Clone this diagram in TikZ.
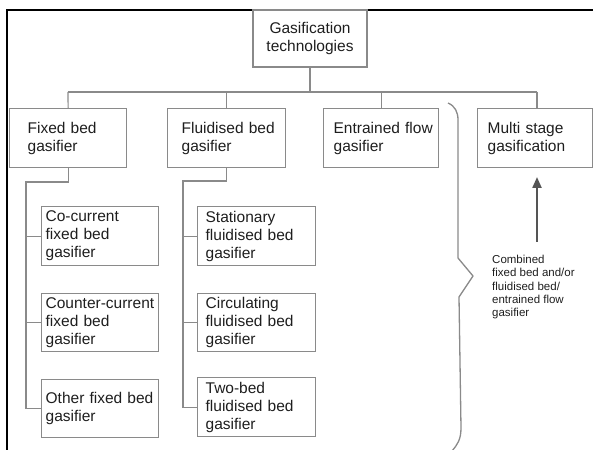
\documentclass[tikz,border=0pt]{standalone}
\usepackage{fontspec}
\setmainfont{Liberation Sans}
\usetikzlibrary{arrows.meta,calc}
\definecolor{lc}{HTML}{8A8A8A}
\definecolor{tc}{HTML}{1E1E1E}
\definecolor{ac}{HTML}{555555}
\begin{document}
\begin{tikzpicture}[x=1bp,y=-1bp,
  box/.style={draw=lc, line width=1.3bp, text=tc, anchor=north west,
    inner xsep=4bp, inner ysep=0pt, align=left,
    font=\fontsize{15.5bp}{18bp}\selectfont},
  lpad/.style={execute at begin node={\leftskip=#1}},
  conn/.style={draw=lc, line width=1.2bp},
  small/.style={anchor=north west, inner sep=0pt, align=left, text=tc,
    font=\fontsize{11.5bp}{13.3bp}\selectfont}]
\useasboundingbox (0,0) rectangle (593,450);
% frame
\draw[line width=2.2bp] (7,451) -- (7,10) -- (594,10);
% top
\node[box, anchor=center, align=center, minimum width=114bp, minimum height=57bp] (top) at (310,38.5) {Gasification\\technologies};
% row 2
\node[box, lpad=14bp, text width=109bp, minimum height=59bp] (fixed) at (9,108) {Fixed bed\\gasifier};
\node[box, lpad=10bp, text width=110bp, minimum height=59bp] (fluid) at (167,108) {Fluidised bed\\gasifier};
\node[box, lpad=6bp, text width=107bp, minimum height=59bp] (entr) at (323,108) {Entrained flow\\gasifier};
\node[box, lpad=6bp, text width=107bp, minimum height=59bp] (multi) at (477,108) {Multi stage\\gasification};
% fixed bed subs
\node[box, text width=109bp, minimum height=59bp] (f1) at (41,206) {Co-current\\fixed bed\\gasifier};
\node[box, text width=109bp, minimum height=58bp] (f2) at (41,293) {\mbox{Counter-current}\\fixed bed\\gasifier};
\node[box, text width=109bp, minimum height=58bp] (f3) at (41,379) {Other fixed bed\\gasifier};
% fluidised subs
\node[box, lpad=4bp, text width=110bp, minimum height=59bp] (u1) at (197,206) {Stationary\\fluidised bed\\gasifier};
\node[box, lpad=4bp, text width=110bp, minimum height=58bp] (u2) at (197,293) {Circulating\\fluidised bed\\gasifier};
\node[box, lpad=4bp, text width=110bp, minimum height=59bp] (u3) at (197,377) {Two-bed\\fluidised bed\\gasifier};
% tree
\coordinate (busL) at (68,92);
\coordinate (busR) at (537,92);
\draw[conn] (busL) -- (busR);
\draw[conn] (top.south) -- (top.south |- busL);
\draw[conn] (busL) -- (fixed.north);
\draw[conn] (fluid.north |- busL) -- (fluid.north);
\draw[conn] (entr.north |- busL) -- (entr.north);
\draw[conn] (busR) -- (busR |- multi.north);
% fixed bed branch
\coordinate (fk) at (26,182);
\draw[conn] (fixed.south) |- (fk) |- (f3.west);
\draw[conn] (fk |- f1.west) -- (f1.west);
\draw[conn] (fk |- f2.west) -- (f2.west);
% fluidised branch
\coordinate (uk) at (183,181);
\draw[conn] (fluid.south) |- (uk) |- (u3.west);
\draw[conn] (uk |- u1.west) -- (u1.west);
\draw[conn] (uk |- u2.west) -- (u2.west);
% brace
\draw[draw=lc, line width=1.3bp, line join=round] (448,103) .. controls (455,106) and (458,112) .. (458,120) -- (458,258) -- (473,276) -- (459,297) -- (461,428) .. controls (461,440) and (457,445) .. (452,451);
% combined
\node[small] (comb) at (492,255) {Combined\\fixed bed and/or\\fluidised bed/\\entrained flow\\gasifier};
\coordinate (aS) at (537,242);
\coordinate (aE) at (537,177);
\draw[draw=ac, line width=2.2bp, -{Triangle[length=11bp,width=9bp]}] (aS) -- (aE);
\end{tikzpicture}
\end{document}
